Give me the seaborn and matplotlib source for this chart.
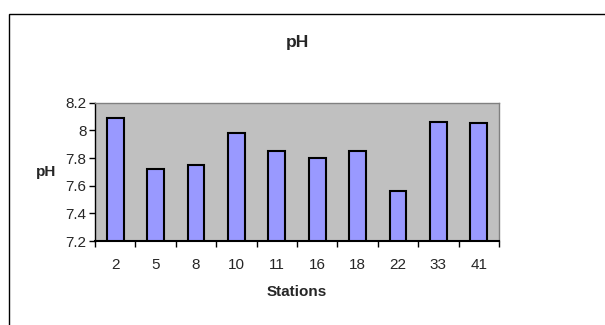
import matplotlib
matplotlib.use("Agg")
import matplotlib.pyplot as plt
import seaborn as sns
import numpy as np
import pandas as pd
from matplotlib.patches import Rectangle

stations = ["2", "5", "8", "10", "11", "16", "18", "22", "33", "41"]
ph_values = [8.09, 7.72, 7.75, 7.98, 7.85, 7.80, 7.85, 7.56, 8.06, 8.05]
y_ticks = [7.2, 7.4, 7.6, 7.8, 8.0, 8.2]
y_tick_labels = ["7.2", "7.4", "7.6", "7.8", "8", "8.2"]

sns.set_style("white")
plt.rcParams['font.family'] = ['Liberation Sans', 'DejaVu Sans']

fig = plt.figure(figsize=(6.05, 3.25), dpi=100)
fig.patch.set_facecolor("white")
# outer chart frame
fig.patches.append(Rectangle((9 / 605, -0.05), 1.0, 1 - 14 / 325 + 0.05,
                             transform=fig.transFigure, fill=False,
                             edgecolor="black", linewidth=1.0))

ax = fig.add_axes([95 / 605, 1 - 241 / 325, (499 - 95) / 605, (241 - 102.7) / 325])
ax.set_facecolor("#C0C0C0")

df = pd.DataFrame({"Stations": stations, "pH": ph_values})
sns.barplot(data=df, x="Stations", y="pH", order=stations, color="#9999FF",
            edgecolor="black", linewidth=1.5, width=0.42, saturation=1, ax=ax)
ax.set_ylim(7.2, 8.2)
ax.set_xlim(-0.5, 9.5)

ax.set_yticks(y_ticks, labels=y_tick_labels)
ax.set_xticks(np.arange(-0.5, 10, 1), labels=[""] * 11)
ax.set_xticks(range(len(stations)), labels=stations, minor=True)
ax.tick_params(axis="x", which="major", direction="out", length=4, width=1, color="black", bottom=True)
ax.tick_params(axis="x", which="minor", length=0, labelsize=11, pad=12)
ax.tick_params(axis="y", direction="out", length=4, width=1, color="black", left=True, labelsize=11, pad=2)

for s in ["top", "right"]:
    ax.spines[s].set_color("#808080")
    ax.spines[s].set_linewidth(1.0)
for s in ["left", "bottom"]:
    ax.spines[s].set_color("black")
    ax.spines[s].set_linewidth(1.0)
ax.spines["bottom"].set_linewidth(1.5)

ax.set_xlabel("Stations", fontsize=11, fontweight="bold", va="center")
ax.xaxis.set_label_coords(0.5, -0.369)
ax.set_ylabel("pH", fontsize=11, fontweight="bold", rotation=0, va="center", ha="center")
ax.yaxis.set_label_coords(-0.12, 0.5)
fig.text(297 / 605, 1 - 42 / 325, "pH", ha="center", va="center", fontsize=12.5, fontweight="bold")

fig.savefig("out.png", dpi=100)
